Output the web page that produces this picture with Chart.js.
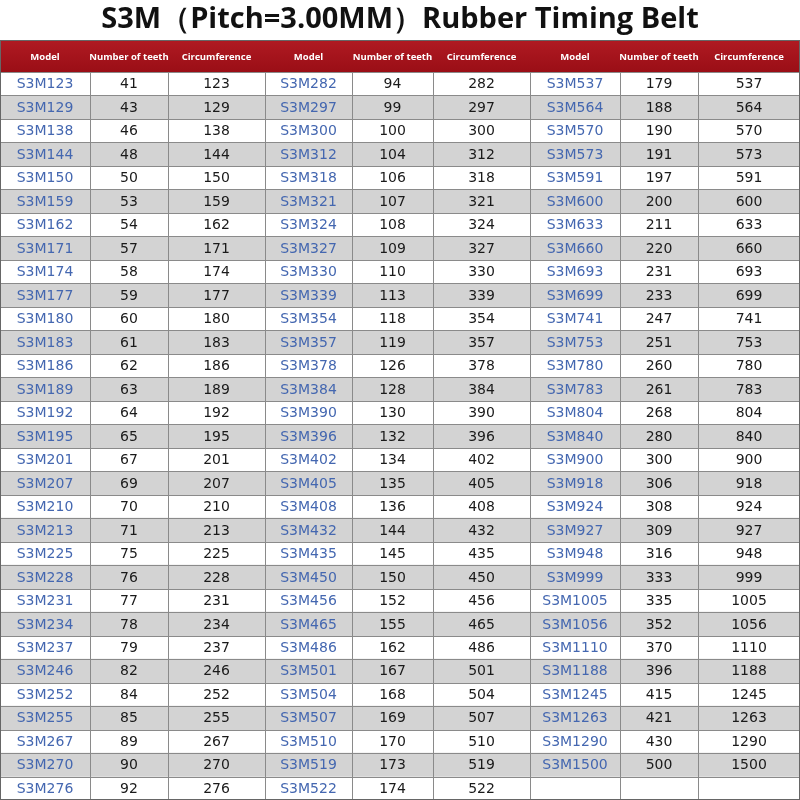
<!DOCTYPE html>
<html>
<head>
<meta charset="utf-8">
<script src="https://cdn.jsdelivr.net/npm/chart.js@4"></script>
<style>
  html, body { margin: 0; padding: 0; background: #fff; }
  #wrap { width: 800px; height: 800px; }
</style>
</head>
<body>
<div id="wrap"><canvas id="chart-belts"></canvas></div>
<script>
const TITLE = 'S3M\uFF08Pitch=3.00MM\uFF09Rubber Timing Belt'
const HEADERS = ['Model', 'Number of teeth', 'Circumference']

const teethA = [41, 43, 46, 48, 50, 53, 54, 57, 58, 59, 60, 61, 62, 63, 64, 65, 67, 69, 70, 71, 75, 76, 77, 78, 79, 82, 84, 85, 89, 90, 92]
const circA = [123, 129, 138, 144, 150, 159, 162, 171, 174, 177, 180, 183, 186, 189, 192, 195, 201, 207, 210, 213, 225, 228, 231, 234, 237, 246, 252, 255, 267, 270, 276]
const teethB = [94, 99, 100, 104, 106, 107, 108, 109, 110, 113, 118, 119, 126, 128, 130, 132, 134, 135, 136, 144, 145, 150, 152, 155, 162, 167, 168, 169, 170, 173, 174]
const circB = [282, 297, 300, 312, 318, 321, 324, 327, 330, 339, 354, 357, 378, 384, 390, 396, 402, 405, 408, 432, 435, 450, 456, 465, 486, 501, 504, 507, 510, 519, 522]
const teethC = [179, 188, 190, 191, 197, 200, 211, 220, 231, 233, 247, 251, 260, 261, 268, 280, 300, 306, 308, 309, 316, 333, 335, 352, 370, 396, 415, 421, 430, 500]
const circC = [537, 564, 570, 573, 591, 600, 633, 660, 693, 699, 741, 753, 780, 783, 804, 840, 900, 918, 924, 927, 948, 999, 1005, 1056, 1110, 1188, 1245, 1263, 1290, 1500]

const groups = [
  { teeth: teethA, circ: circA },
  { teeth: teethB, circ: circB },
  { teeth: teethC, circ: circC },
]

// column edges in x-axis units (0..800)
const EDGES = [0, 90, 168, 265, 352, 433, 530, 620, 698, 800]
const ROWS = 31
const rowLabels = Array.from({ length: ROWS }, (_, i) => String(i))
const stripes = rowLabels.map((_, i) => (i % 2 === 1 ? [0, 800] : null))

const BLUE = '#4467b0'
const LINE = '#8a8a8a'

const tablePlugin = {
  id: 'beltTable',
  afterDatasetsDraw(chart) {
    const { ctx, chartArea, scales } = chart
    const x = scales.x
    const y = scales.y
    const rowH = (chartArea.bottom - chartArea.top) / ROWS
    const px = (v) => x.getPixelForValue(v)
    ctx.save()

    // title
    ctx.fillStyle = '#111'
    ctx.font = "bold 29px 'Open Sans', sans-serif"
    ctx.textAlign = 'center'
    ctx.textBaseline = 'middle'
    ctx.fillText(TITLE, 400, 20)

    // header row
    const hTop = 40
    const hBot = chartArea.top
    const grad = ctx.createLinearGradient(0, hTop, 0, hBot)
    grad.addColorStop(0, '#b01a22')
    grad.addColorStop(1, '#9a0e16')
    ctx.fillStyle = grad
    ctx.fillRect(px(0), hTop, px(800) - px(0), hBot - hTop)
    ctx.fillStyle = '#fff'
    ctx.font = "bold 9.5px 'Open Sans', sans-serif"
    for (let c = 0; c < 9; c++) {
      const cx = (px(EDGES[c]) + px(EDGES[c + 1])) / 2
      ctx.fillText(HEADERS[c % 3], cx, (hTop + hBot) / 2 + 1)
    }

    // grid lines
    ctx.strokeStyle = LINE
    ctx.lineWidth = 1
    ctx.beginPath()
    for (let r = 0; r <= ROWS; r++) {
      const yy = Math.round(chartArea.top + r * rowH) + 0.5
      ctx.moveTo(px(0), yy)
      ctx.lineTo(px(800), yy)
    }
    EDGES.forEach((e) => {
      const xx = Math.min(Math.round(px(e)) + 0.5, 799.5)
      ctx.moveTo(xx, chartArea.top)
      ctx.lineTo(xx, chartArea.bottom)
    })
    ctx.stroke()
    ctx.strokeStyle = '#666'
    ctx.strokeRect(0.5, hTop + 0.5, 799, 799 - hTop)

    // cells
    ctx.font = "14px 'DejaVu Sans', sans-serif"
    groups.forEach((g, gi) => {
      g.teeth.forEach((t, r) => {
        const cy = y.getPixelForValue(r) + 1
        const cols = ['S3M' + g.circ[r], String(t), String(g.circ[r])]
        cols.forEach((txt, k) => {
          const c = gi * 3 + k
          const cx = (px(EDGES[c]) + px(EDGES[c + 1])) / 2
          ctx.fillStyle = k === 0 ? BLUE : '#1a1a1a'
          ctx.fillText(txt, cx, cy)
        })
      })
    })
    ctx.restore()
  },
}

new Chart(document.getElementById('chart-belts'), {
  type: 'bar',
  data: {
    labels: rowLabels,
    datasets: [
      {
        data: stripes,
        backgroundColor: '#d3d3d3',
        borderWidth: 0,
        barPercentage: 1,
        categoryPercentage: 1,
      },
    ],
  },
  options: {
    indexAxis: 'y',
    responsive: true,
    maintainAspectRatio: false,
    animation: false,
    layout: { padding: { top: 72, left: 0, right: 0, bottom: 0 } },
    scales: {
      x: { type: 'linear', min: 0, max: 800, display: false },
      y: { type: 'category', display: false, offset: true },
    },
    plugins: { legend: { display: false }, tooltip: { enabled: false } },
  },
  plugins: [tablePlugin],
})
</script>
</body>
</html>
